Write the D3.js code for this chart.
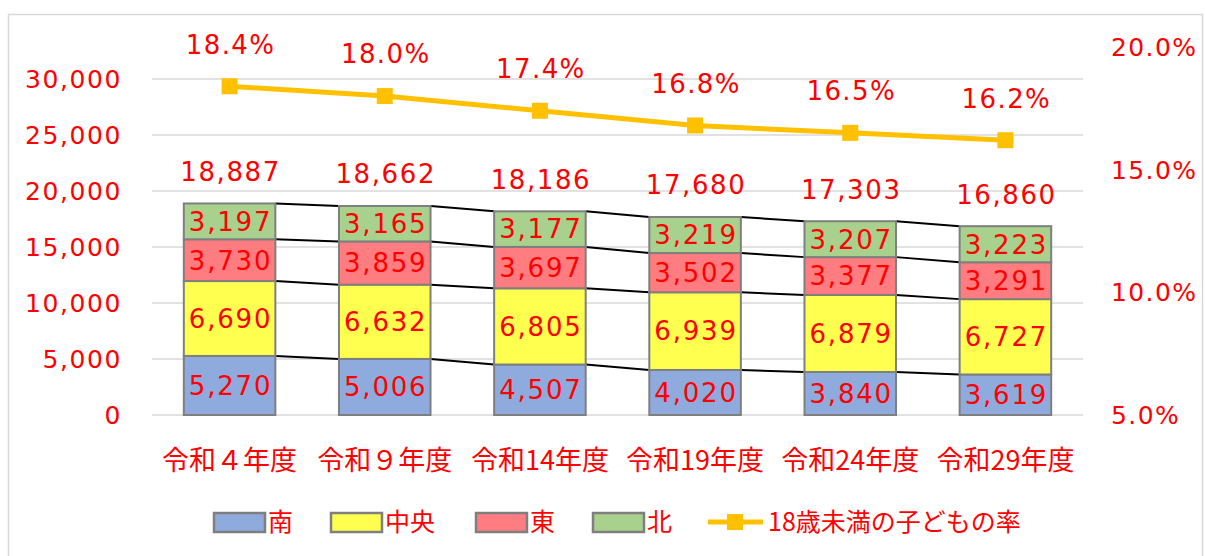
<!DOCTYPE html>
<html>
<head>
<meta charset="utf-8">
<script src="https://cdn.jsdelivr.net/npm/d3@7"></script>
<style>
  body { margin: 0; background: #fff; }
  text { fill: #ff0000; }
</style>
</head>
<body>
<div id="chart"></div>
<script>
// data
var categories = ["令和４年度", "令和９年度", "令和14年度", "令和19年度", "令和24年度", "令和29年度"];
var seriesNames = ["南", "中央", "東", "北"];
var south = [5270, 5006, 4507, 4020, 3840, 3619];
var central = [6690, 6632, 6805, 6939, 6879, 6727];
var east = [3730, 3859, 3697, 3502, 3377, 3291];
var north = [3197, 3165, 3177, 3219, 3207, 3223];
var childRate = [0.184, 0.180, 0.174, 0.168, 0.165, 0.162];
var leftTicks = [0, 5000, 10000, 15000, 20000, 25000, 30000];
var rightTicks = [0.05, 0.10, 0.15, 0.20];
var colors = ["#8faadc", "#ffff4f", "#ff7c80", "#a9d18e"];
var lineColor = "#ffc000";
var lineName = "18歳未満の子どもの率";

var svgWidth = 1205, svgHeight = 556;
var numFont = "'DejaVu Sans', Verdana, sans-serif";
var cjkFont = "'Noto Sans CJK JP', sans-serif";

var svg = d3.select("#chart").append("svg")
  .attr("width", svgWidth)
  .attr("height", svgHeight);

// chart border
svg.append("rect")
  .attr("x", 8.5).attr("y", 14.5)
  .attr("width", 1194).attr("height", 560)
  .attr("fill", "none")
  .attr("stroke", "#d9d9d9")
  .attr("stroke-width", 1.5);

var plotLeft = 152, plotRight = 1083;

var x = d3.scaleBand()
  .domain(categories)
  .range([plotLeft, plotRight])
  .paddingInner(0.41)
  .paddingOuter(0.205);

var y = d3.scaleLinear().domain([0, 30000]).range([415, 79]);
var y2 = d3.scaleLinear().domain([0.05, 0.20]).range([415, 47]);

// gridlines
svg.append("g").selectAll("line")
  .data(leftTicks)
  .enter().append("line")
  .attr("x1", plotLeft).attr("x2", plotRight)
  .attr("y1", d => y(d)).attr("y2", d => y(d))
  .attr("stroke", "#d9d9d9")
  .attr("stroke-width", 1.5);

// left axis labels
var fmt = d3.format(",");
svg.append("g").selectAll("text")
  .data(leftTicks)
  .enter().append("text")
  .attr("x", 122)
  .attr("y", d => y(d))
  .attr("dy", "0.36em")
  .attr("text-anchor", "end")
  .style("font-family", numFont)
  .style("font-size", "25px")
  .style("letter-spacing", "1.6px")
  .text(d => fmt(d));

// right axis labels
svg.append("g").selectAll("text")
  .data(rightTicks)
  .enter().append("text")
  .attr("x", 1111)
  .attr("y", d => y2(d))
  .attr("dy", "0.36em")
  .attr("text-anchor", "start")
  .style("font-family", numFont)
  .style("font-size", "25px")
  .style("letter-spacing", "1.4px")
  .text(d => d3.format(".1%")(d));

// stacked data
var table = categories.map(function(c, i) {
  return { cat: c, s0: south[i], s1: central[i], s2: east[i], s3: north[i] };
});
var stack = d3.stack().keys(["s0", "s1", "s2", "s3"]);
var layers = stack(table);

// series lines between bars
var lineGroup = svg.append("g");
layers.forEach(function(layer) {
  for (var i = 0; i < layer.length - 1; i++) {
    lineGroup.append("line")
      .attr("x1", x(categories[i]) + x.bandwidth())
      .attr("x2", x(categories[i + 1]))
      .attr("y1", y(layer[i][1]))
      .attr("y2", y(layer[i + 1][1]))
      .attr("stroke", "#000")
      .attr("stroke-width", 2);
  }
});

// bars
var barGroup = svg.append("g");
layers.forEach(function(layer, k) {
  barGroup.selectAll(".seg" + k)
    .data(layer)
    .enter().append("rect")
    .attr("x", (d, i) => x(categories[i]))
    .attr("y", d => y(d[1]))
    .attr("width", x.bandwidth())
    .attr("height", d => y(d[0]) - y(d[1]))
    .attr("fill", colors[k])
    .attr("stroke", "#7f7f7f")
    .attr("stroke-width", 2);

  barGroup.selectAll(".lab" + k)
    .data(layer)
    .enter().append("text")
    .attr("x", (d, i) => x(categories[i]) + x.bandwidth() / 2 + 1)
    .attr("y", d => (y(d[0]) + y(d[1])) / 2)
    .attr("dy", "0.36em")
    .attr("text-anchor", "middle")
    .style("font-family", numFont)
    .style("font-size", "26px")
    .style("letter-spacing", "1.8px")
    .text(d => fmt(d[1] - d[0]));
});

// totals
svg.append("g").selectAll("text")
  .data(table)
  .enter().append("text")
  .attr("x", d => x(d.cat) + x.bandwidth() / 2 + 1)
  .attr("y", d => y(d.s0 + d.s1 + d.s2 + d.s3) - 32)
  .attr("dy", "0.36em")
  .attr("text-anchor", "middle")
  .style("font-family", numFont)
  .style("font-size", "26px")
  .style("letter-spacing", "1.6px")
  .text(d => fmt(d.s0 + d.s1 + d.s2 + d.s3));

// rate line
var line = d3.line()
  .x((d, i) => x(categories[i]) + x.bandwidth() / 2)
  .y(d => y2(d));

svg.append("path")
  .datum(childRate)
  .attr("d", line)
  .attr("fill", "none")
  .attr("stroke", lineColor)
  .attr("stroke-width", 5);

svg.append("g").selectAll("rect")
  .data(childRate)
  .enter().append("rect")
  .attr("x", (d, i) => x(categories[i]) + x.bandwidth() / 2 - 8)
  .attr("y", d => y2(d) - 8)
  .attr("width", 16).attr("height", 16)
  .attr("fill", lineColor);

svg.append("g").selectAll("text")
  .data(childRate)
  .enter().append("text")
  .attr("x", (d, i) => x(categories[i]) + x.bandwidth() / 2 + 1)
  .attr("y", d => y2(d) - 42)
  .attr("dy", "0.36em")
  .attr("text-anchor", "middle")
  .style("font-family", numFont)
  .style("font-size", "26px")
  .style("letter-spacing", "1.4px")
  .text(d => d3.format(".1%")(d));

// category labels
svg.append("g").selectAll("text")
  .data(categories)
  .enter().append("text")
  .attr("x", d => x(d) + x.bandwidth() / 2)
  .attr("y", 460)
  .attr("dy", "0.36em")
  .attr("text-anchor", "middle")
  .style("font-family", cjkFont)
  .style("font-size", "27px")
  .text(d => d);

// legend
var legendY = 522;
var legendX = [214, 331, 476, 593];
var legend = svg.append("g");
seriesNames.forEach(function(name, k) {
  legend.append("rect")
    .attr("x", legendX[k]).attr("y", legendY - 9)
    .attr("width", 51).attr("height", 19)
    .attr("fill", colors[k])
    .attr("stroke", "#7f7f7f")
    .attr("stroke-width", 2.5);
  legend.append("text")
    .attr("x", legendX[k] + 54)
    .attr("y", legendY)
    .attr("dy", "0.36em")
    .style("font-family", cjkFont)
    .style("font-size", "25px")
    .text(name);
});
legend.append("line")
  .attr("x1", 708).attr("x2", 763)
  .attr("y1", legendY).attr("y2", legendY)
  .attr("stroke", lineColor)
  .attr("stroke-width", 5);
legend.append("rect")
  .attr("x", 727).attr("y", legendY - 8)
  .attr("width", 16).attr("height", 16)
  .attr("fill", lineColor);
legend.append("text")
  .attr("x", 768)
  .attr("y", legendY)
  .attr("dy", "0.36em")
  .style("font-family", cjkFont)
  .style("font-size", "25px")
  .text(lineName);
</script>
</body>
</html>
